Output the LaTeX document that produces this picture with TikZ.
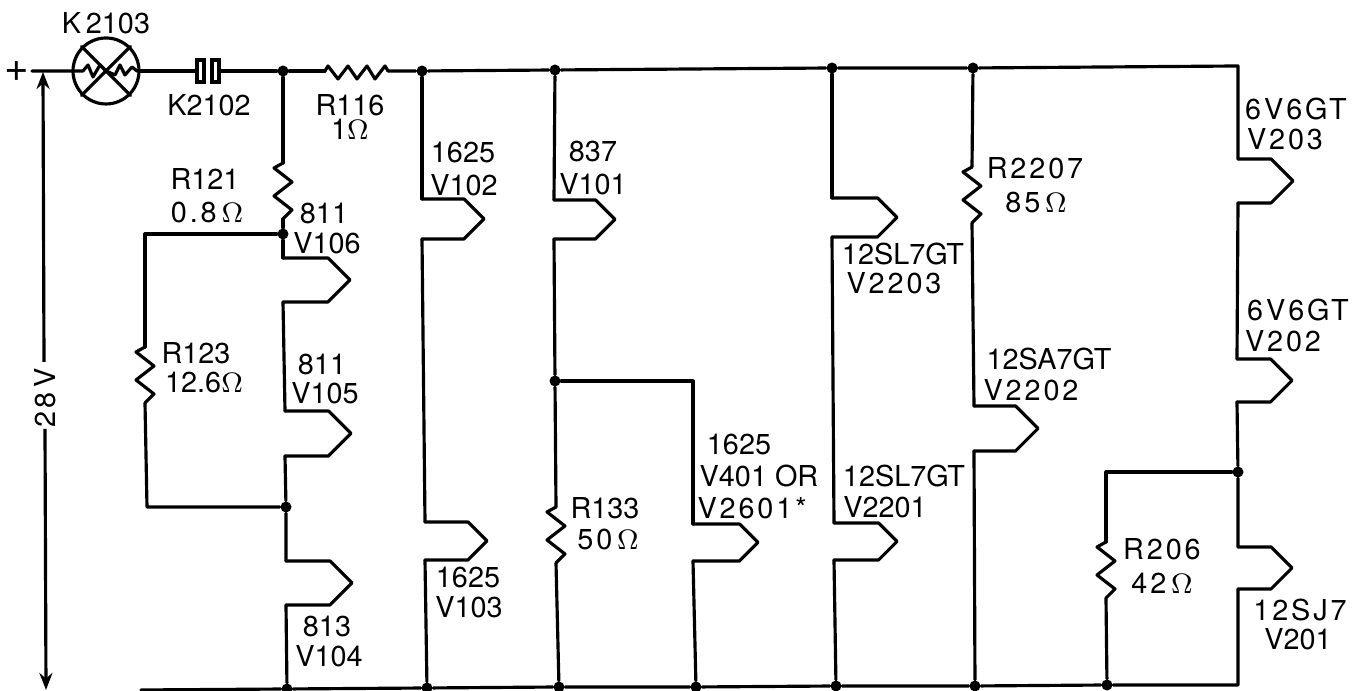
\documentclass[tikz,border=0pt]{standalone}
\usepackage{fontspec}
\setmainfont{TeX Gyre Heros}
\usepackage{amsmath}
\usetikzlibrary{arrows.meta}
\tikzset{
  wire/.style={line width=0.9pt, line join=round, line cap=round},
  volt/.style={line width=0.9pt, -{Stealth[length=1.7mm,width=1.3mm]}},
  dot/.style={circle, fill=black, inner sep=0pt, minimum size=0.11cm},
  lab/.style={inner sep=0pt, font=\fontsize{8.2}{9}\selectfont},
  labw/.style={inner sep=0pt, font=\fontsize{8.2}{9}\selectfont\addfontfeature{LetterSpace=10}},
  pics/tube/.style 2 args={code={
    \coordinate (-in) at (0,0);
    \coordinate (-out) at (0,-#2);
    \draw[wire] (-in)--(#1-#2/2,0)--(#1,-#2/2)--(#1-#2/2,-#2)--(-out);
  }},
  pics/resv/.style={code={
    \coordinate (-in) at (0,0);
    \coordinate (-out) at (0,-0.56);
    \draw[wire] (-in)--(-0.09,-0.05)--(0.09,-0.19)--(-0.09,-0.33)--(0.09,-0.47)--(-out);
  }},
  pics/resh/.style={code={
    \coordinate (-in) at (0,0);
    \coordinate (-out) at (0.63,0);
    \draw[wire] (-in)--(0.03,0.05)--(0.13,-0.08)--(0.23,0.05)--(0.32,-0.08)--(0.42,0.05)--(0.50,-0.08)--(0.60,0.05)--(-out);
  }}
}
\begin{document}
\begin{tikzpicture}
\useasboundingbox (0,0) rectangle (13.59,6.91);
% junctions
\node[dot] (jA) at (2.83,6.20) {};
\node[dot] (jB) at (4.22,6.20) {};
\node[dot] (jC) at (5.55,6.21) {};
\node[dot] (jD) at (8.32,6.23) {};
\node[dot] (jE) at (9.73,6.23) {};
\node[dot] (jF) at (2.83,4.57) {};
\node[dot] (jG) at (2.86,1.84) {};
\node[dot] (jH) at (5.55,3.10) {};
\node[dot] (jI) at (12.38,2.19) {};
\node[dot] (kA) at (2.87,0.02) {};
\node[dot] (kB) at (4.27,0.03) {};
\node[dot] (kC) at (5.59,0.04) {};
\node[dot] (kD) at (6.96,0.04) {};
\node[dot] (kE) at (8.36,0.05) {};
\node[dot] (kF) at (9.75,0.05) {};
\node[dot] (kG) at (11.07,0.06) {};
\coordinate (wstart) at (0.32,6.20);
\coordinate (cTR) at (12.38,6.25);
\coordinate (cBR) at (12.38,0.06);
\coordinate (cBL) at (1.41,0.01);
\coordinate (cA) at (1.45,4.57);
\coordinate (cB) at (1.47,1.84);
\coordinate (cC) at (6.93,3.10);
\coordinate (cD) at (11.06,2.19);
% lamp and contact
\node[draw, line width=0.9pt, circle, inner sep=0pt, minimum size=0.66cm] (lamp) at (1.06,6.20) {};
\node[draw, line width=0.9pt, inner sep=0pt, minimum width=0.07cm, minimum height=0.22cm] (capa) at (2.005,6.20) {};
\node[draw, line width=0.9pt, inner sep=0pt, minimum width=0.07cm, minimum height=0.22cm] (capb) at (2.155,6.20) {};
\draw[wire] (lamp.45)--(lamp.225);
\draw[wire] (lamp.135)--(lamp.-45);
\draw[wire] (lamp.center)--++(-0.06,0.06)--++(-0.07,-0.12)--++(-0.05,0.12)--++(-0.05,-0.06)--(wstart);
\draw[wire] (lamp.center)--++(0.09,-0.04)--++(0.05,0.10)--++(0.05,-0.10)--++(0.07,0.08)--++(0.05,-0.04)--(lamp.east);
\draw[wire] (lamp.east)--(capa.west);
\draw[wire] (capb.east)--(jA);
% tubes and resistors
\pic (v106) at (2.83,4.33) {tube={0.67}{0.44}};
\pic (v105) at (2.85,2.80) {tube={0.66}{0.45}};
\pic (v104) at (2.86,1.30) {tube={0.66}{0.44}};
\pic (v102) at (4.22,4.92) {tube={0.62}{0.40}};
\pic (v103) at (4.25,1.69) {tube={0.62}{0.38}};
\pic (v101) at (5.54,4.91) {tube={0.61}{0.39}};
\pic (v401) at (6.93,1.67) {tube={0.65}{0.37}};
\pic (v2203) at (8.32,4.93) {tube={0.65}{0.39}};
\pic (v2201) at (8.34,1.68) {tube={0.63}{0.37}};
\pic (v2202) at (9.74,2.85) {tube={0.64}{0.45}};
\pic (v203) at (12.38,5.32) {tube={0.55}{0.44}};
\pic (v202) at (12.37,3.32) {tube={0.55}{0.43}};
\pic (v201) at (12.38,1.44) {tube={0.54}{0.42}};
\pic (r116) at (3.25,6.20) {resh};
\pic (r121) at (2.83,5.28) {resv};
\pic (r123) at (1.45,3.44) {resv};
\pic (r133) at (5.56,1.84) {resv};
\pic (r2207) at (9.72,5.24) {resv};
\pic (r206) at (11.06,1.49) {resv};
% rails
\draw[wire] (jA)--(r116-in);
\draw[wire] (r116-out)--(jB)--(jC)--(jD)--(jE)--(cTR)--(v203-in);
\draw[wire] (cBL)--(kA)--(kB)--(kC)--(kD)--(kE)--(kF)--(kG)--(cBR)--(v201-out);
% branches
\draw[wire] (jA)--(r121-in);
\draw[wire] (r121-out)--(jF)--(v106-in);
\draw[wire] (v106-out)--(v105-in);
\draw[wire] (v105-out)--(jG)--(v104-in);
\draw[wire] (v104-out)--(kA);
\draw[wire] (jF)--(cA)--(r123-in);
\draw[wire] (r123-out)--(cB)--(jG);
\draw[wire] (jB)--(v102-in);
\draw[wire] (v102-out)--(v103-in);
\draw[wire] (v103-out)--(kB);
\draw[wire] (jC)--(v101-in);
\draw[wire] (v101-out)--(jH)--(r133-in);
\draw[wire] (r133-out)--(kC);
\draw[wire] (jH)--(cC)--(v401-in);
\draw[wire] (v401-out)--(kD);
\draw[wire] (jD)--(v2203-in);
\draw[wire] (v2203-out)--(v2201-in);
\draw[wire] (v2201-out)--(kE);
\draw[wire] (jE)--(r2207-in);
\draw[wire] (r2207-out)--(v2202-in);
\draw[wire] (v2202-out)--(kF);
\draw[wire] (v203-out)--(v202-in);
\draw[wire] (v202-out)--(jI)--(v201-in);
\draw[wire] (jI)--(cD)--(r206-in);
\draw[wire] (r206-out)--(kG);
% 28 V arrow
\node[labw, rotate=90] (vlab) at (0.45,2.93) {28\,V};
\coordinate (vtop) at (0.43,6.19);
\coordinate (vbot) at (0.46,0.01);
\coordinate (vgapa) at (0.44,3.29);
\coordinate (vgapb) at (0.45,2.62);
\draw[volt] (vgapa)--(vtop);
\draw[volt] (vgapb)--(vbot);
% labels
\node[lab, font=\fontsize{12}{13}\selectfont] (plus) at (0.17,6.19) {+};
\node[lab] (lK2103) at (1.06,6.68) {K\,2103};
\node[lab] (lK2102) at (2.09,5.86) {K2102};
\node[lab] (lR116) at (3.50,5.86) {R116};
\node[lab] (vR116) at (3.50,5.62) {1$\Omega$};
\node[lab] (lR121) at (2.05,5.12) {R121};
\node[labw] (vR121) at (2.07,4.78) {0.8\,$\Omega$};
\node[lab] (tV106) at (3.24,4.77) {811};
\node[lab] (lV106) at (3.27,4.48) {V106};
\node[lab] (lR123) at (1.96,3.38) {R123};
\node[lab] (vR123) at (2.04,3.08) {12.6$\Omega$};
\node[lab] (tV105) at (3.22,3.26) {811};
\node[lab] (lV105) at (3.25,2.98) {V105};
\node[lab] (tV104) at (3.27,0.64) {813};
\node[lab] (lV104) at (3.29,0.35) {V104};
\node[lab] (tV102) at (4.63,5.38) {1625};
\node[lab] (lV102) at (4.64,5.06) {V102};
\node[lab] (tV103) at (4.68,1.13) {1625};
\node[lab] (lV103) at (4.69,0.84) {V103};
\node[lab] (tV101) at (5.93,5.39) {837};
\node[lab] (lV101) at (5.93,5.07) {V101};
\node[lab] (lR133) at (6.05,1.83) {R133};
\node[labw] (vR133) at (6.08,1.51) {50\,$\Omega$};
\node[lab] (tV401) at (7.39,2.46) {1625};
\node[lab] (lV401) at (7.59,2.15) {V401 OR};
\node[labw] (lV2601) at (7.52,1.83) {V2601*};
\node[lab] (tV2203) at (9.03,4.37) {12SL7GT};
\node[labw] (lV2203) at (8.94,4.08) {V2203};
\node[lab] (tV2201) at (9.04,2.15) {12SL7GT};
\node[lab] (lV2201) at (8.85,1.84) {V2201};
\node[labw] (lR2207) at (10.35,5.23) {R2207};
\node[labw] (vR2207) at (10.36,4.88) {85\,$\Omega$};
\node[lab] (tV2202) at (10.49,3.32) {12SA7GT};
\node[labw] (lV2202) at (10.31,3.01) {V2202};
\node[labw] (tV203) at (12.96,5.82) {6V6GT};
\node[labw] (lV203) at (12.85,5.52) {V203};
\node[labw] (tV202) at (12.98,3.81) {6V6GT};
\node[labw] (lV202) at (12.83,3.50) {V202};
\node[labw] (lR206) at (11.62,1.42) {R206};
\node[labw] (vR206) at (11.62,1.08) {42\,$\Omega$};
\node[labw] (tV201) at (13.00,0.81) {12SJ7};
\node[lab] (lV201) at (12.98,0.52) {V201};
\end{tikzpicture}
\end{document}
